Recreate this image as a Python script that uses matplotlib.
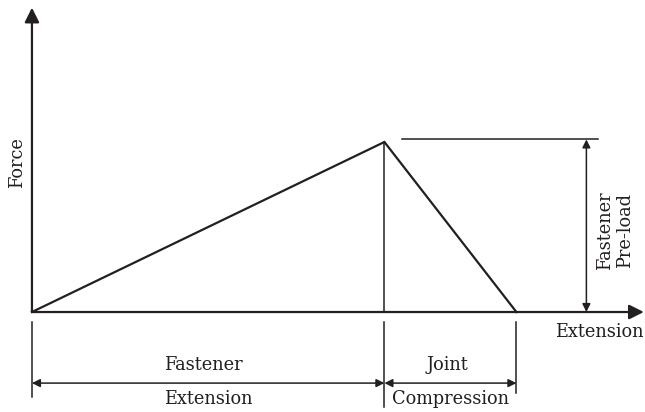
import matplotlib.pyplot as plt

# schematic values (arbitrary units)
fastener_ext = 2.67   # fastener extension at pre-load
joint_comp = 1.0      # joint compression at pre-load
preload = 1.0         # fastener pre-load force

load_x = [0, fastener_ext, fastener_ext + joint_comp]
load_y = [0, preload, 0]

x_max = 4.635
y_max = 1.79

plt.rcParams['font.family'] = ['DejaVu Serif']
fs = 12.8

fig = plt.figure(figsize=(6.45, 4.12), dpi=100)
ax = fig.add_axes([0, 0, 1, 1])
ax.set_xlim(-0.242, 4.644)
ax.set_ylim(-0.588, 1.835)
ax.axis('off')

k = '#231f20'
thick = 1.6
thin = 1.1

# axes with arrows
big = dict(arrowstyle='-|>', color=k, lw=thick, mutation_scale=22,
           shrinkA=0, shrinkB=0)
ax.annotate('', xy=(0, y_max), xytext=(0, 0), arrowprops=big,
            annotation_clip=False)
ax.annotate('', xy=(x_max, 0), xytext=(0, 0), arrowprops=big,
            annotation_clip=False)

# load line
ax.plot(load_x, load_y, color=k, lw=thick, solid_joinstyle='miter')
ax.plot([fastener_ext, fastener_ext], [0, preload], color=k, lw=thin)

# pre-load dimension
ax.plot([2.80, 4.29], [preload * 1.015] * 2, color=k, lw=thin)
dbl = dict(arrowstyle='<|-|>', color=k, lw=thin, mutation_scale=12,
           shrinkA=0, shrinkB=0)
ax.annotate('', xy=(4.20, 0), xytext=(4.20, preload * 1.015), arrowprops=dbl)
ax.text(4.415, 0.48, 'Fastener\nPre-load', rotation=90, ha='center', va='center',
        fontsize=fs, color=k, linespacing=1.15)

ax.text(-0.114, 0.88, 'Force', rotation=90, ha='center', va='center',
        fontsize=fs, color=k)
ax.text(4.635, -0.118, 'Extension', ha='right', va='center', fontsize=fs, color=k)

# bottom dimensions
ax.plot([0, 0], [-0.059, -0.50], color=k, lw=thin)
ax.plot([fastener_ext, fastener_ext], [-0.059, -0.56], color=k, lw=thin)
ax.plot([fastener_ext + joint_comp] * 2, [-0.059, -0.476], color=k, lw=thin)

ya = -0.418
ax.annotate('', xy=(0, ya), xytext=(fastener_ext, ya), arrowprops=dbl)
ax.annotate('', xy=(fastener_ext, ya), xytext=(fastener_ext + joint_comp, ya),
            arrowprops=dbl)

ax.text(fastener_ext / 2 - 0.04, -0.31, 'Fastener', ha='center', va='center',
        fontsize=fs, color=k)
ax.text(fastener_ext / 2, -0.51, 'Extension', ha='center', va='center',
        fontsize=fs, color=k)
xj = fastener_ext + joint_comp / 2
ax.text(xj - 0.02, -0.31, 'Joint', ha='center', va='center', fontsize=fs, color=k)
ax.text(xj, -0.51, 'Compression', ha='center', va='center', fontsize=fs, color=k)

fig.savefig('out.png', dpi=100)
